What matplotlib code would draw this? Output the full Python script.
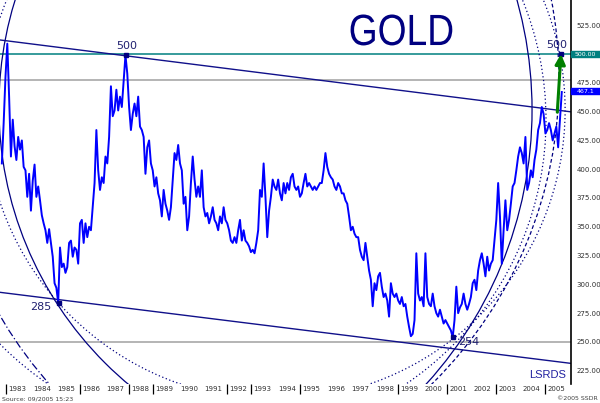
import matplotlib
matplotlib.use('Agg')
import matplotlib.pyplot as plt
import matplotlib.patches as mpatches
import matplotlib.transforms as mtrans
from matplotlib.patheffects import AbstractPathEffect
import numpy as np

# ---------------- data ----------------
prices = [
    405, 440, 480, 509, 463, 411, 443, 420, 408, 428, 417, 425, 402, 399, 376, 396, 364, 390, 404, 376,
    385, 373, 360, 353, 347, 336, 348, 336, 324, 301, 297, 284, 332, 315, 318, 310, 315, 336, 338, 324,
    332, 330, 318, 353, 356, 336, 353, 341, 350, 347, 367, 388, 434, 399, 382, 393, 388, 411, 405, 428,
    472, 446, 451, 469, 451, 463, 454, 477, 499, 483, 454, 434, 448, 457, 446, 463, 437, 434, 428, 396,
    419, 425, 405, 399, 385, 393, 379, 373, 359, 382, 370, 364, 356, 367, 391, 414, 408, 421, 405, 399,
    370, 376, 347, 359, 388, 411, 391, 376, 385, 376, 399, 367, 359, 362, 353, 359, 367, 356, 353, 347,
    359, 353, 367, 356, 353, 347, 338, 336, 341, 336, 347, 356, 338, 347, 338, 336, 333, 328, 330, 327,
    336, 347, 382, 376, 405, 376, 341, 364, 376, 391, 385, 382, 391, 379, 373, 388, 379, 388, 382, 393,
    396, 385, 382, 385, 376, 379, 388, 396, 385, 388, 385, 382, 385, 382, 385, 388, 388, 399, 414, 402,
    396, 393, 391, 385, 382, 388, 385, 379, 379, 373, 370, 359, 347, 350, 344, 341, 341, 330, 324, 321,
    336, 324, 312, 304, 281, 301, 295, 307, 310, 298, 289, 292, 286, 272, 301, 292, 289, 292, 286, 283,
    289, 281, 283, 272, 263, 255, 257, 269, 327, 292, 286, 289, 281, 327, 289, 283, 281, 292, 281, 275,
    272, 278, 272, 266, 269, 266, 263, 260, 254, 269, 298, 275, 280, 283, 292, 283, 278, 283, 289, 301,
    304, 295, 312, 321, 327, 318, 307, 324, 312, 318, 321, 338, 356, 388, 359, 318, 347, 373, 347, 356,
    370, 385, 388, 399, 411, 419, 414, 405, 428, 382, 388, 399, 393, 408, 417, 434, 440, 454, 448, 431,
    434, 440, 434, 425, 431, 437, 419, 443, 467,
]
start_year = 1982.83          # first sample
step_years = 0.0742           # sampling interval (~27 days)

year_labels = [str(y) for y in range(1983, 2006)]
tick_years = [1983, 1986, 1988, 1989, 1992, 1993, 1995, 1999, 2001, 2003, 2005]
price_ticks = [225, 250, 275, 300, 325, 350, 375, 400, 425, 450, 475, 500, 525]

upper_line_years = [1982.755, 2006.06]
upper_line_prices = [512.2, 449.8]
lower_line_years = [1982.755, 2006.06]
lower_line_prices = [293.1, 231.4]

teal_level = 500
gray_levels = [477.4, 250]

pivot_years = [1987.90, 1985.15, 2001.23, 2005.66]
pivot_prices = [499.5, 284, 254.5, 500]
pivot_labels = ['500', '285', '254', '500']
pivot_label_years = [1987.94, 1984.43, 2001.88, 2005.49]
pivot_label_prices = [507, 280.4, 250, 507.7]

# circles: centre year, centre price, radius (years), radius (price), style
circle_cx = [1997.49, 1993.98, 1997.49, 1987.82, 1988.14, 1992.02]
circle_cy = [454.0, 451.4, 454.0, 451.4, 477.4, 442.7]
circle_rx = [14.78, 11.84, 17.02, 16.65, 17.43, 13.02]
circle_ry = [314.2, 251.7, 362.0, 354.2, 370.7, 276.9]
circle_ls = ['-', (0, (1, 2)), (0, (6, 2, 1, 2)), '-', (0, (3, 2)), (0, (1, 2))]

arrow_from = (2005.50, 449.5)
arrow_to = (2005.65, 500)
last_price_label = '467.1'
last_price_pos = 467.8


class HScale(AbstractPathEffect):
    """Narrow the glyphs horizontally around a fixed display x."""
    def __init__(self, sx, x0):
        super().__init__()
        self.sx = sx
        self.x0 = x0

    def draw_path(self, renderer, gc, tpath, affine, rgbFace=None):
        aff = affine + mtrans.Affine2D().translate(-self.x0, 0).scale(self.sx, 1).translate(self.x0, 0)
        renderer.draw_path(gc, tpath, aff, rgbFace)


# ---------------- figure ----------------
NAVY = '#000080'
fig = plt.figure(figsize=(6, 4.03), dpi=100)
ax = fig.add_axes([0, 19 / 403, 571 / 600, 384 / 403])
ax.set_xlim(1982.755, 2006.06)
ax.set_ylim(213.5, 546.9)

for s in ['left', 'top', 'bottom']:
    ax.spines[s].set_visible(False)
ax.spines['right'].set_color('black')
ax.spines['right'].set_linewidth(1.2)

# horizontal levels
ax.axhline(teal_level, color='#008080', lw=1.1, zorder=2)
for g in gray_levels:
    ax.axhline(g, color='#a0a0a0', lw=1.1, zorder=1.5)

# circles
for cx, cy, rx, ry, ls in zip(circle_cx, circle_cy, circle_rx, circle_ry, circle_ls):
    e = mpatches.Ellipse((cx, cy), 2 * rx, 2 * ry, fill=False, ec=NAVY,
                         lw=0.9, ls=ls, zorder=2)
    ax.add_patch(e)

# channel lines
ax.plot(upper_line_years, upper_line_prices, color='#10108a', lw=1.0, zorder=2)
ax.plot(lower_line_years, lower_line_prices, color='#10108a', lw=1.0, zorder=2)

# price series
years = start_year + step_years * np.arange(len(prices))
ax.plot(years, prices, color='#0000ff', lw=1.4, zorder=3)

# pivots
ax.plot(pivot_years, pivot_prices, 's', ms=2.8, color=NAVY, zorder=4)
for lx, ly, t in zip(pivot_label_years, pivot_label_prices, pivot_labels):
    ax.text(lx, ly, t, ha='center', va='center', fontsize=8, color='#202070',
            family='DejaVu Sans', zorder=5)

# green arrow
ax.annotate('', xy=arrow_to, xytext=arrow_from,
            arrowprops=dict(arrowstyle='-|>,head_width=0.3,head_length=0.6',
                            color='#008000', lw=2.2, shrinkA=0, shrinkB=0),
            zorder=6)

# title text (narrowed to match the condensed look)
title_year = 1999.14
x0_disp = ax.transData.transform((title_year, 400))[0]
ax.text(title_year, 507.8, 'GOLD', ha='center', va='baseline', fontsize=31.5,
        color=NAVY, family=['Liberation Sans', 'DejaVu Sans'],
        path_effects=[HScale(0.85, x0_disp)])
ax.text(2005.12, 221.4, 'LSRDS', ha='center', va='center', fontsize=8,
        color='#2020a0', family=['Liberation Sans', 'DejaVu Sans'])

# right price axis
ax.yaxis.tick_right()
ax.set_yticks(price_ticks)
ax.set_yticklabels(['' if p == teal_level else f'{p:.2f}' for p in price_ticks])
ax.tick_params(axis='y', length=0, labelsize=5, labelcolor='#303030', pad=4)

# x ticks and year labels
ax.set_xticks(tick_years)
ax.set_xticklabels([])
ax.tick_params(axis='x', length=7, width=0.9, color='black', direction='out')
btrans = mtrans.blended_transform_factory(ax.transData, ax.transAxes)
for lab in year_labels:
    ax.text(int(lab) + 0.1, -0.006, lab, transform=btrans, ha='left', va='top',
            fontsize=5, color='#303030', clip_on=False)

# value boxes on the axis
rtrans = mtrans.blended_transform_factory(ax.transAxes, ax.transData)
box_w = 29 / 571
ax.add_patch(mpatches.Rectangle((1.0, teal_level - 2.8), box_w, 5.6, transform=rtrans,
                                color='#008080', clip_on=False, zorder=7))
ax.text(1.0 + box_w / 2, teal_level, f'{teal_level:.2f}', transform=rtrans, ha='center',
        va='center', fontsize=4.5, color='white', clip_on=False, zorder=8)
ax.add_patch(mpatches.Rectangle((1.0, last_price_pos - 2.6), box_w, 5.2, transform=rtrans,
                                color='#0000ff', clip_on=False, zorder=7))
ax.text(1.0 + box_w / 2, last_price_pos, last_price_label, transform=rtrans, ha='center',
        va='center', fontsize=4.5, color='white', clip_on=False, zorder=8)

# footer texts
fig.text(0.003, 0.004, 'Source: 09/2005 15:23', fontsize=4.5, color='#404040',
         ha='left', va='bottom')
fig.text(0.997, 0.004, '©2005 SSDR', fontsize=4.5, color='#404040',
         ha='right', va='bottom')

fig.savefig('out.png', dpi=100)
